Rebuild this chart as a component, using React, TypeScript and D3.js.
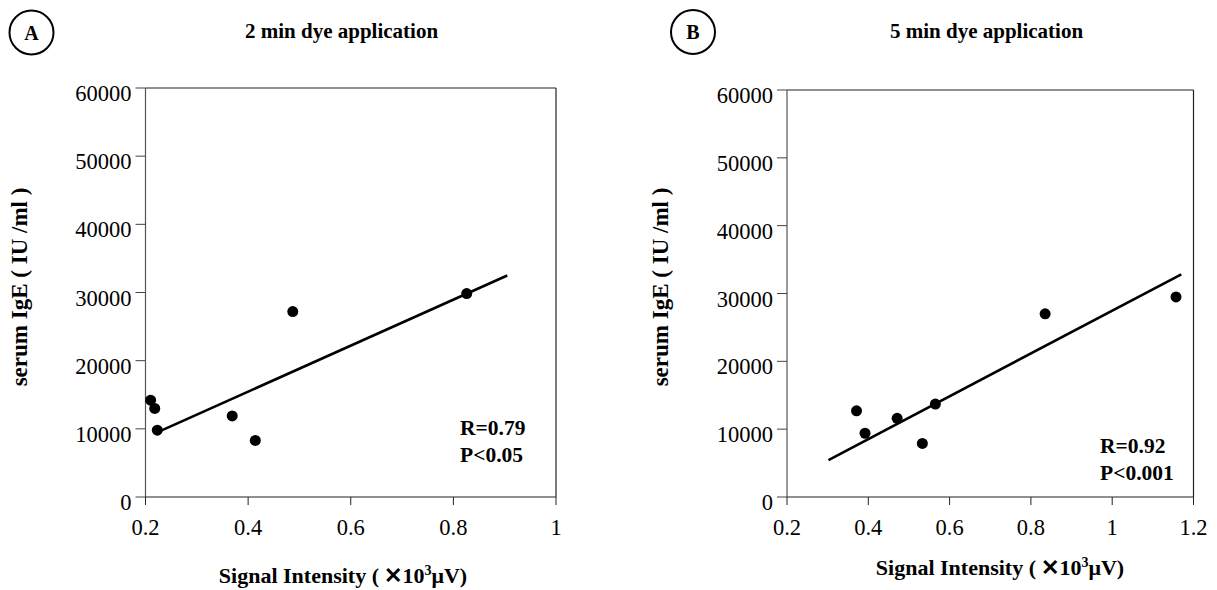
import React from "react";
import * as d3 from "d3";

const xTicksA = [0.2, 0.4, 0.6, 0.8, 1];
const xTicksB = [0.2, 0.4, 0.6, 0.8, 1, 1.2];
const yTicks = [0, 10000, 20000, 30000, 40000, 50000, 60000];

const xA = [0.21, 0.218, 0.223, 0.369, 0.414, 0.487, 0.826];
const yA = [14200, 13000, 9800, 11900, 8300, 27200, 29850];
const fitA = [
  [0.225, 9550],
  [0.905, 32500],
];

const xB = [0.371, 0.392, 0.471, 0.533, 0.565, 0.835, 1.157];
const yB = [12700, 9400, 11600, 7900, 13700, 27000, 29500];
const fitB = [
  [0.302, 5450],
  [1.17, 32830],
];

const FONT = "'Liberation Serif', 'Times New Roman', Times, serif";

type PanelProps = {
  letter: string;
  title: string;
  xs: number[];
  ys: number[];
  fit: number[][];
  xTicks: number[];
  xDomain: [number, number];
  xRange: [number, number];
  yRange: [number, number];
  circle: [number, number];
  titleX: number;
  yLabelX: number;
  yLabelY: number;
  xLabelX: number;
  xLabelY: number;
  stats: string[];
  statsX: number;
  statsY: number;
};

function Panel(p: PanelProps) {
  const x = d3.scaleLinear().domain(p.xDomain).range(p.xRange);
  const y = d3.scaleLinear().domain([0, 60000]).range(p.yRange);
  const line = d3
    .line<number[]>()
    .x((d) => x(d[0]))
    .y((d) => y(d[1]));
  const [l, r] = p.xRange;
  const [b, t] = p.yRange;
  return (
    <g fontFamily={FONT} fill="#000">
      <circle cx={p.circle[0]} cy={p.circle[1]} r={22} fill="none" stroke="#000" strokeWidth={2} />
      <text x={p.circle[0]} y={p.circle[1] + 7} textAnchor="middle" fontSize={20} fontWeight="bold">
        {p.letter}
      </text>
      <text x={p.titleX} y={38} fontSize={21} fontWeight="bold">
        {p.title}
      </text>
      {/* frame */}
      <line x1={l} x2={r} y1={t} y2={t} stroke="#222" strokeWidth={1.2} />
      <line x1={r} x2={r} y1={t} y2={b} stroke="#222" strokeWidth={1.2} />
      <line x1={l} x2={l} y1={t} y2={b} stroke="#555" strokeWidth={1.2} />
      <line x1={l} x2={r} y1={b} y2={b} stroke="#222" strokeWidth={1.2} />
      {yTicks.map((v) => (
        <g key={"y" + v}>
          <line x1={l - 10} x2={l} y1={y(v)} y2={y(v)} stroke="#444" strokeWidth={1} />
          <text x={l - 14} y={y(v) + 13} textAnchor="end" fontSize={22.5}>
            {v}
          </text>
        </g>
      ))}
      {p.xTicks.map((v) => (
        <g key={"x" + v}>
          <line x1={x(v)} x2={x(v)} y1={b} y2={b + 8} stroke="#222" strokeWidth={1} />
          <text x={x(v)} y={b + 38} textAnchor="middle" fontSize={22.5}>
            {String(v)}
          </text>
        </g>
      ))}
      <path d={line(p.fit) || ""} stroke="#000" strokeWidth={2.6} fill="none" />
      {p.xs.map((v, i) => (
        <circle key={"p" + i} cx={x(v)} cy={y(p.ys[i])} r={5.5} fill="#000" />
      ))}
      {p.stats.map((s, i) => (
        <text key={"s" + i} x={p.statsX} y={p.statsY + i * 27} fontSize={21.5} fontWeight="bold">
          {s}
        </text>
      ))}
      <text
        transform={`translate(${p.yLabelX},${p.yLabelY}) rotate(-90)`}
        textAnchor="middle"
        fontSize={23}
        fontWeight="bold"
      >
        serum IgE ( IU /ml )
      </text>
      <text x={p.xLabelX} y={p.xLabelY} textAnchor="middle" fontSize={22} fontWeight="bold">
        Signal Intensity ( ✕10
        <tspan dy={-8} fontSize={14}>
          3
        </tspan>
        <tspan dy={8}>μV)</tspan>
      </text>
    </g>
  );
}

export default function App() {
  return (
    <svg
      width={1217}
      height={590}
      style={{ position: "absolute", left: 0, top: 0, background: "#fff" }}
    >
      <rect width={1217} height={590} fill="#fff" />
      <Panel
        letter="A"
        title="2 min dye application"
        xs={xA}
        ys={yA}
        fit={fitA}
        xTicks={xTicksA}
        xDomain={[0.2, 1]}
        xRange={[145.5, 556]}
        yRange={[497, 88]}
        circle={[31.5, 32.5]}
        titleX={245}
        yLabelX={27}
        yLabelY={287}
        xLabelX={343}
        xLabelY={583}
        stats={["R=0.79", "P<0.05"]}
        statsX={460}
        statsY={435}
      />
      <Panel
        letter="B"
        title="5 min dye application"
        xs={xB}
        ys={yB}
        fit={fitB}
        xTicks={xTicksB}
        xDomain={[0.2, 1.2]}
        xRange={[787, 1193.5]}
        yRange={[497, 90]}
        circle={[693, 32]}
        titleX={890}
        yLabelX={668}
        yLabelY={287}
        xLabelX={1000}
        xLabelY={575}
        stats={["R=0.92", "P<0.001"]}
        statsX={1100}
        statsY={453}
      />
    </svg>
  );
}
